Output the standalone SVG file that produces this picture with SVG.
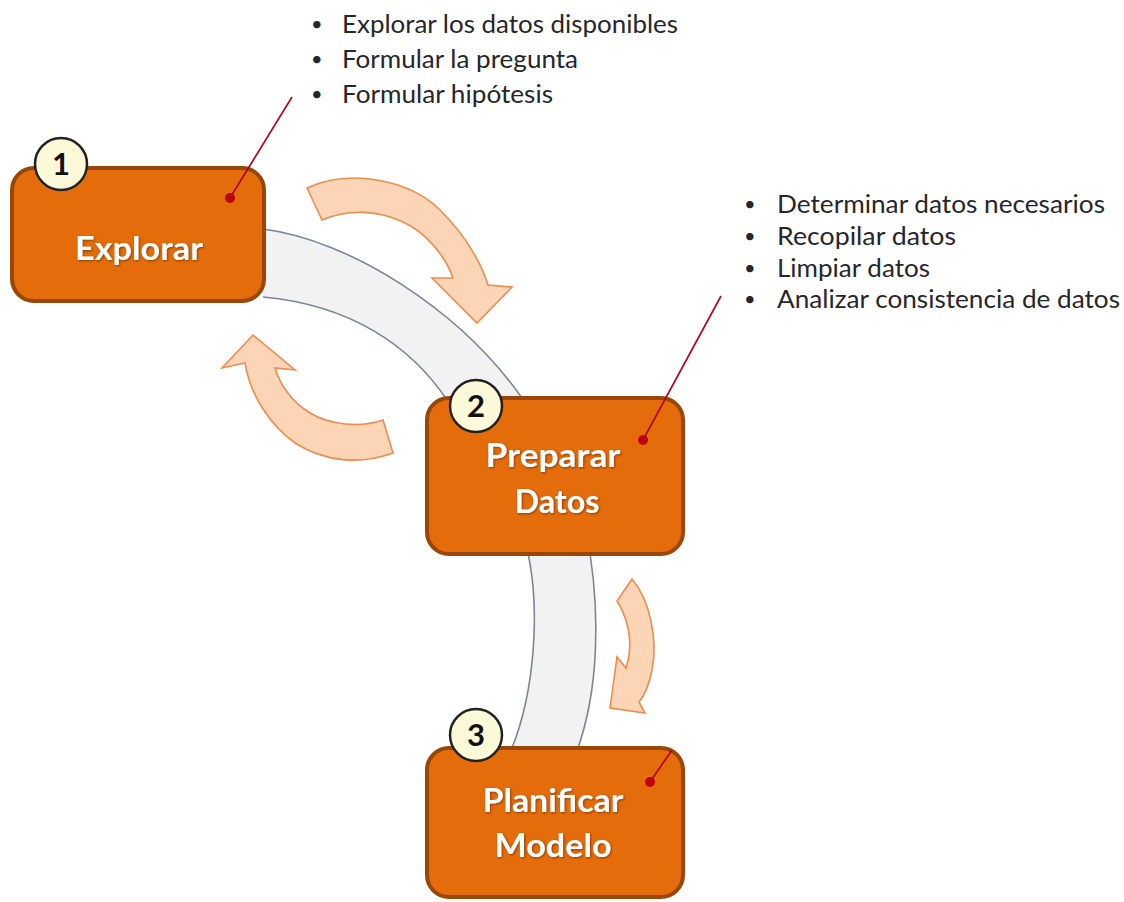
<svg xmlns="http://www.w3.org/2000/svg" width="1124" height="902" viewBox="0 0 1124 902">
<defs>
<style>
.band{fill:#f2f2f2;stroke:none}
.bandline{fill:none;stroke:#7b8794;stroke-width:1.6}
.arrow{fill:#fbd5b6;stroke:#ee8c4e;stroke-width:1.6;stroke-linejoin:miter}
.box{fill:#e46c0a;stroke:#9a4606;stroke-width:4}
.num{fill:#fcf9d8;stroke:#222;stroke-width:2.5}
.numtxt{font-family:Lato,"Open Sans",sans-serif;font-weight:700;font-size:31px;fill:#111;text-anchor:middle}
.lbl{font-family:Lato,"Open Sans",sans-serif;font-weight:700;font-size:32px;fill:#fff;text-anchor:middle;filter:url(#sh)}
.bul{font-family:Lato,"Open Sans",sans-serif;font-size:25px;fill:#26262b}
.dotb{font-size:20px}
.call{stroke:#b5001c;stroke-width:1.6;fill:none}
.dot{fill:#c00010}
</style>
<filter id="sh" x="-10%" y="-20%" width="120%" height="140%">
<feDropShadow dx="1" dy="1" stdDeviation="0.8" flood-color="#6b2a00" flood-opacity="0.7"/>
</filter>
</defs>
<rect width="1124" height="902" fill="#fff"/>
<g id="connectors">
<path class="band" d="M263,229 C350,240 460,310 522,398 L447,400 C410,345 350,305 263,297 Z"/>
<path class="bandline" d="M263,229 C350,240 460,310 522,398"/>
<path class="bandline" d="M263,297 C350,305 410,345 447,400"/>
<path class="band" d="M528,553 C540,610 535,690 512,748 L578,748 C598,690 600,620 590,553 Z"/>
<path class="bandline" d="M528,553 C540,610 535,690 512,748"/>
<path class="bandline" d="M590,553 C600,620 598,690 578,748"/>
<path class="arrow" d="M307,188 C350,168 410,180 440,210 C465,235 480,260 488,285 L512,287 L477,323 L432,278 L453,278 C445,255 425,232 403,222 C380,211 350,208 322,220 Z"/>
<path class="arrow" d="M383,420 C360,428 330,425 310,413 C292,402 280,385 275,368 L295,370 L253,335 L222,368 L245,363 C250,395 270,425 295,443 C325,462 360,465 393,453 Z"/>
<path class="arrow" d="M632,579 C650,600 658,640 652,670 C649,685 645,695 639,702 L645,713 L610,708 L617,657 L626,668 C632,650 632,625 617,601 Z"/>
</g>
<g id="node1">
<rect class="box" x="12" y="168" width="252" height="133" rx="22"/>
<text class="lbl" x="139" y="260" textLength="128" lengthAdjust="spacingAndGlyphs">Explorar</text>
<circle class="num" cx="61" cy="164" r="26"/>
<text class="numtxt" x="61" y="175">1</text>
</g>
<g id="node2">
<rect class="box" x="427" y="398" width="256" height="156" rx="22"/>
<text class="lbl" x="553" y="467" textLength="135" lengthAdjust="spacingAndGlyphs">Preparar</text>
<text class="lbl" x="557" y="513" textLength="85" lengthAdjust="spacingAndGlyphs">Datos</text>
<circle class="num" cx="476" cy="406" r="26"/>
<text class="numtxt" x="476" y="417">2</text>
</g>
<g id="node3">
<rect class="box" x="427" y="748" width="256" height="149" rx="22"/>
<text class="lbl" x="553" y="812" textLength="141" lengthAdjust="spacingAndGlyphs">Planificar</text>
<text class="lbl" x="553" y="857" textLength="117" lengthAdjust="spacingAndGlyphs">Modelo</text>
<circle class="num" cx="476" cy="735" r="26"/>
<text class="numtxt" x="476" y="746">3</text>
</g>
<g id="callouts">
<line class="call" x1="230" y1="198" x2="292" y2="97"/>
<circle class="dot" cx="230" cy="198" r="5"/>
<line class="call" x1="643" y1="440" x2="721" y2="296"/>
<circle class="dot" cx="643" cy="440" r="5"/>
<line class="call" x1="650" y1="782" x2="672" y2="750"/>
<circle class="dot" cx="650" cy="782" r="5"/>
</g>
<g id="notes1">
<text class="bul"><tspan class="dotb" x="311" y="31">•</tspan><tspan x="342" y="33" textLength="336" lengthAdjust="spacingAndGlyphs">Explorar los datos disponibles</tspan></text>
<text class="bul"><tspan class="dotb" x="311" y="66">•</tspan><tspan x="342" y="68" textLength="236" lengthAdjust="spacingAndGlyphs">Formular la pregunta</tspan></text>
<text class="bul"><tspan class="dotb" x="311" y="101">•</tspan><tspan x="342" y="103" textLength="211" lengthAdjust="spacingAndGlyphs">Formular hipótesis</tspan></text>
</g>
<g id="notes2">
<text class="bul"><tspan class="dotb" x="744" y="211">•</tspan><tspan x="777" y="213" textLength="328" lengthAdjust="spacingAndGlyphs">Determinar datos necesarios</tspan></text>
<text class="bul"><tspan class="dotb" x="744" y="243">•</tspan><tspan x="777" y="245" textLength="179" lengthAdjust="spacingAndGlyphs">Recopilar datos</tspan></text>
<text class="bul"><tspan class="dotb" x="744" y="275">•</tspan><tspan x="777" y="277" textLength="153" lengthAdjust="spacingAndGlyphs">Limpiar datos</tspan></text>
<text class="bul"><tspan class="dotb" x="744" y="306">•</tspan><tspan x="777" y="308" textLength="343" lengthAdjust="spacingAndGlyphs">Analizar consistencia de datos</tspan></text>
</g>
</svg>
